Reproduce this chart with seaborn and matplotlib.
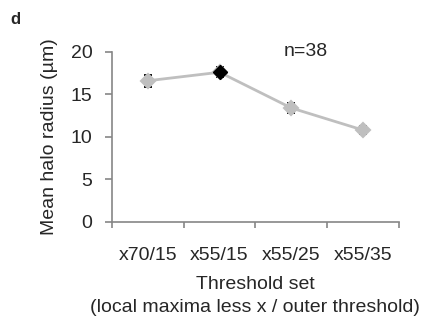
import numpy as np
import pandas as pd
import matplotlib
matplotlib.use("Agg")
import matplotlib.pyplot as plt
import seaborn as sns

# data
threshold_sets = ["x70/15", "x55/15", "x55/25", "x55/35"]
mean_radius = [16.6, 17.6, 13.4, 10.8]
radius_err = [0.7, 0.6, 0.55, 0.5]
highlight_set = "x55/15"
n_cells = 38
y_ticks = [0, 5, 10, 15, 20]

sns.set_style("ticks")
plt.rcParams["font.family"] = ["Liberation Sans", "DejaVu Sans"]

df = pd.DataFrame({"set": threshold_sets, "radius": mean_radius, "err": radius_err})

grey = "#BFBFBF"
axis_grey = "#868686"
fs = 14

fig = plt.figure(figsize=(4.34, 3.24), dpi=100)
ax = fig.add_axes([0.258, 0.315, 0.661, 0.525])

pos = np.arange(len(df))
ax.errorbar(pos, df["radius"], yerr=df["err"], fmt="none", ecolor="black",
            elinewidth=1, capsize=3, capthick=1.3, zorder=2)
sns.pointplot(data=df, x="set", y="radius", color=grey, markers="D",
              markersize=7.5, linewidth=2, errorbar=None, ax=ax, zorder=3)
hi = threshold_sets.index(highlight_set)
ax.plot(pos[hi], mean_radius[hi], marker="D", markersize=7.5, color="black",
        linestyle="none", zorder=4)

ax.set_ylim(0, 20)
ax.set_yticks(y_ticks)
ax.set_xlim(-0.5, len(df) - 0.5)
ax.set_xticks(np.arange(len(df) + 1) - 0.5)
ax.set_xticklabels([])
ax.set_xticks(pos, minor=True)
ax.set_xticklabels(threshold_sets, minor=True)
ax.tick_params(axis="x", which="minor", length=0, pad=18, labelsize=fs)
ax.tick_params(axis="x", which="major", length=4, width=1.2, color=axis_grey)
ax.tick_params(axis="y", length=5, width=1.2, color=axis_grey, labelsize=fs, pad=9)

for side in ["top", "right"]:
    ax.spines[side].set_visible(False)
for side in ["left", "bottom"]:
    ax.spines[side].set_color(axis_grey)
    ax.spines[side].set_linewidth(1.2)

ax.set_xlabel("Threshold set\n(local maxima less x / outer threshold)",
              fontsize=fs, linespacing=1.45, labelpad=9)
ax.set_ylabel("Mean halo radius (µm)", fontsize=fs, labelpad=9)

ax.text(0.676, 1.0, f"n={n_cells}", transform=ax.transAxes,
        ha="center", va="center", fontsize=fs)
fig.text(0.023, 0.94, "d", fontsize=12, fontweight="bold", va="center")

fig.savefig("out.png", dpi=100)
